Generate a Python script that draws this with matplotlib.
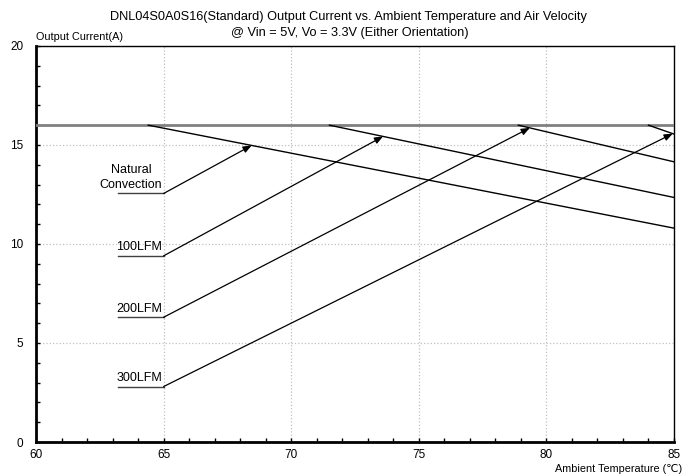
import numpy as np
import matplotlib.pyplot as plt
from matplotlib.ticker import MultipleLocator

plt.rcParams['font.family'] = ['Liberation Sans', 'DejaVu Sans']

# Derating curves
rated_current = 16.0  # flat current limit (A)
curve_names = ["Natural\nConvection", "100LFM", "200LFM", "300LFM"]
knee_temps = [64.4, 71.5, 78.9, 84.0]  # temperature where derating starts (C)
end_currents = [10.8, 12.35, 14.15, 15.55]  # current at 85 C (A)

# Annotation placement (label anchor and arrow target temperature)
label_currents = [12.55, 9.4, 6.3, 2.8]
arrow_temps = [68.45, 73.6, 79.35, 84.95]
underline_x = (63.2, 65.0)

t_min, t_max = 60, 85

fig = plt.figure(figsize=(6.92, 4.74), dpi=100)
ax = fig.add_axes([0.052, 0.0675, 0.922, 0.8355])

# flat rated current line
ax.plot([t_min, t_max], [rated_current, rated_current], color="#808080", lw=2, zorder=3)

for name, knee, end_i, lab_y, arr_t in zip(curve_names, knee_temps, end_currents,
                                           label_currents, arrow_temps):
    temps = [knee, t_max]
    cur = [rated_current, end_i]
    ax.plot(temps, cur, color="black", lw=1, zorder=4)
    # label with underline and arrow to the curve
    ax.plot(underline_x, [lab_y, lab_y], color="#404040", lw=1, zorder=4)
    target_y = np.interp(arr_t, temps, cur)
    ax.annotate("", xy=(arr_t, target_y), xytext=(underline_x[1], lab_y),
                arrowprops=dict(arrowstyle="-|>,head_length=0.5,head_width=0.2",
                                color="black", lw=0.9, shrinkA=0, shrinkB=0),
                zorder=5)
    ax.text(underline_x[1] - 0.05, lab_y + 0.12, name, ha="right", va="bottom",
            fontsize=9, multialignment="center", linespacing=1.3)

ax.set_xlim(t_min, t_max)
ax.set_ylim(0, 20)
ax.xaxis.set_major_locator(MultipleLocator(5))
ax.xaxis.set_minor_locator(MultipleLocator(1))
ax.yaxis.set_major_locator(MultipleLocator(5))
ax.yaxis.set_minor_locator(MultipleLocator(1))
ax.tick_params(which="both", direction="in", labelsize=8.5, length=3, width=1)
ax.tick_params(axis="x", pad=5)
ax.tick_params(axis="y", pad=9)
ax.grid(True, which="major", color="#c0c0c0", linestyle=":", lw=0.9)

ax.spines["left"].set_linewidth(2)
ax.spines["bottom"].set_linewidth(2)
ax.spines["top"].set_linewidth(1)
ax.spines["right"].set_linewidth(1)

fig.text(0.503, 0.965, "DNL04S0A0S16(Standard) Output Current vs. Ambient Temperature and Air Velocity",
         ha="center", va="center", fontsize=9.2)
fig.text(0.506, 0.93, "@ Vin = 5V, Vo = 3.3V (Either Orientation)",
         ha="center", va="center", fontsize=9.2)
fig.text(0.052, 0.921, "Output Current(A)", ha="left", va="center", fontsize=7.8)
fig.text(0.986, 0.011, "Ambient Temperature (\u2103)", ha="right", va="center", fontsize=7.8)

fig.savefig("out.png", dpi=100)
